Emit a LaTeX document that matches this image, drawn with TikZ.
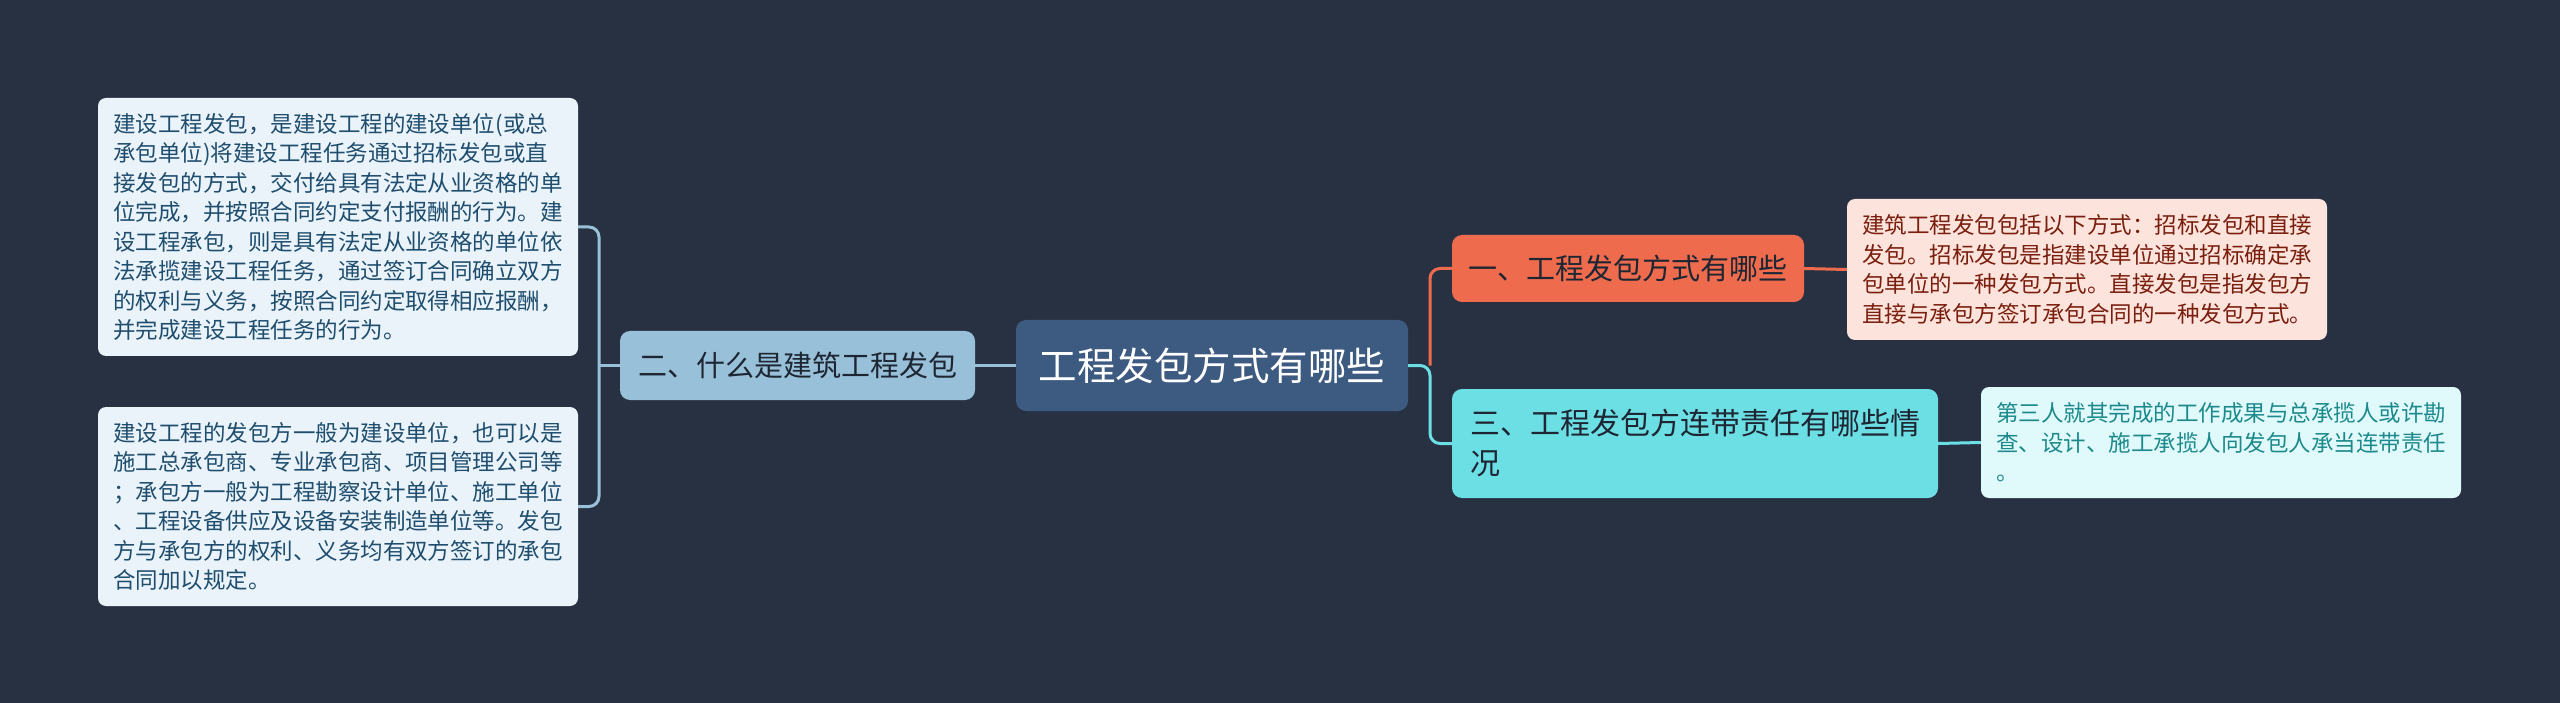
\documentclass[tikz,border=0pt]{standalone}
\usepackage{fontspec}
\setmainfont{Noto Sans CJK SC}
\definecolor{bg}{HTML}{283142}
\definecolor{cfill}{HTML}{3D5A80}
\definecolor{bfill}{HTML}{98C1D9}
\definecolor{rfill}{HTML}{EE6C4D}
\definecolor{cyfill}{HTML}{6CDFE5}
\definecolor{lbox}{HTML}{EAF3F9}
\definecolor{ltext}{HTML}{1E4D6E}
\definecolor{rbox}{HTML}{FCE3DC}
\definecolor{rtext}{HTML}{7A1E0E}
\definecolor{cybox}{HTML}{E0F9FA}
\definecolor{cytext}{HTML}{1C8A8C}
\definecolor{dtext}{HTML}{1E2633}
\begin{document}
\begin{tikzpicture}[x=1pt,y=-1pt,
  leaf/.style={rounded corners=8pt, inner sep=0pt, align=left, anchor=center,
    font=\fontsize{22.5}{29.5}\selectfont},
  mid/.style={rounded corners=10pt, inner sep=0pt, align=left, anchor=center,
    font=\fontsize{29}{40}\selectfont, text=dtext},
  conn/.style={line width=3pt, rounded corners=10pt}]
\fill[bg] (0,0) rectangle (2560,703);
\useasboundingbox (0,0) rectangle (2560,703);

\node[mid, fill=cfill, text=white, minimum width=392pt, minimum height=91pt,
  font=\fontsize{38.5}{46}\selectfont] (c) at (1212,365.5) {工程发包方式有哪些};

\node[mid, fill=bfill, minimum width=355pt, minimum height=69pt] (n2) at (797.5,365.5) {二、什么是建筑工程发包};
\node[mid, fill=rfill, minimum width=352pt, minimum height=67pt] (n1) at (1628,268.5) {一、工程发包方式有哪些};
\node[mid, fill=cyfill, minimum width=486pt, minimum height=109pt,
  font=\fontsize{30}{40}\selectfont] (n3) at (1695,443.5) {三、工程发包方连带责任有哪些情\\况};

\node[leaf, fill=lbox, text=ltext, minimum width=480pt, minimum height=258pt] (lt) at (338,227) {建设工程发包，是建设工程的建设单位(或总\\承包单位)将建设工程任务通过招标发包或直\\接发包的方式，交付给具有法定从业资格的单\\位完成，并按照合同约定支付报酬的行为。建\\设工程承包，则是具有法定从业资格的单位依\\法承揽建设工程任务，通过签订合同确立双方\\的权利与义务，按照合同约定取得相应报酬，\\并完成建设工程任务的行为。};

\node[leaf, fill=lbox, text=ltext, minimum width=480pt, minimum height=199pt] (lb) at (338,506.5) {建设工程的发包方一般为建设单位，也可以是\\施工总承包商、专业承包商、项目管理公司等\\；承包方一般为工程勘察设计单位、施工单位\\、工程设备供应及设备安装制造单位等。发包\\方与承包方的权利、义务均有双方签订的承包\\合同加以规定。};

\node[leaf, fill=rbox, text=rtext, minimum width=480pt, minimum height=141pt] (t1) at (2087,269.5) {建筑工程发包包括以下方式：招标发包和直接\\发包。招标发包是指建设单位通过招标确定承\\包单位的一种发包方式。直接发包是指发包方\\直接与承包方签订承包合同的一种发包方式。};

\node[leaf, fill=cybox, text=cytext, minimum width=480pt, minimum height=111pt] (t3) at (2221,442.5) {第三人就其完成的工作成果与总承揽人或许勘\\查、设计、施工承揽人向发包人承当连带责任\\。};

\coordinate (jl) at (599,365.5);
\coordinate (jr) at (1430,365.5);

\draw[conn, bfill] (lt.east) -| (jl) |- (lb.east);
\draw[conn, bfill] (jl) -- (n2.west);
\draw[conn, bfill] (n2.east) -- (c.west);
\draw[conn, rfill] (jr) |- (n1.west);
\draw[conn, cyfill] (c.east) -- (jr) |- (n3.west);
\draw[conn, rfill] (n1.east) -- (t1.west);
\draw[conn, cyfill] (n3.east) -- (t3.west);
\end{tikzpicture}
\end{document}
